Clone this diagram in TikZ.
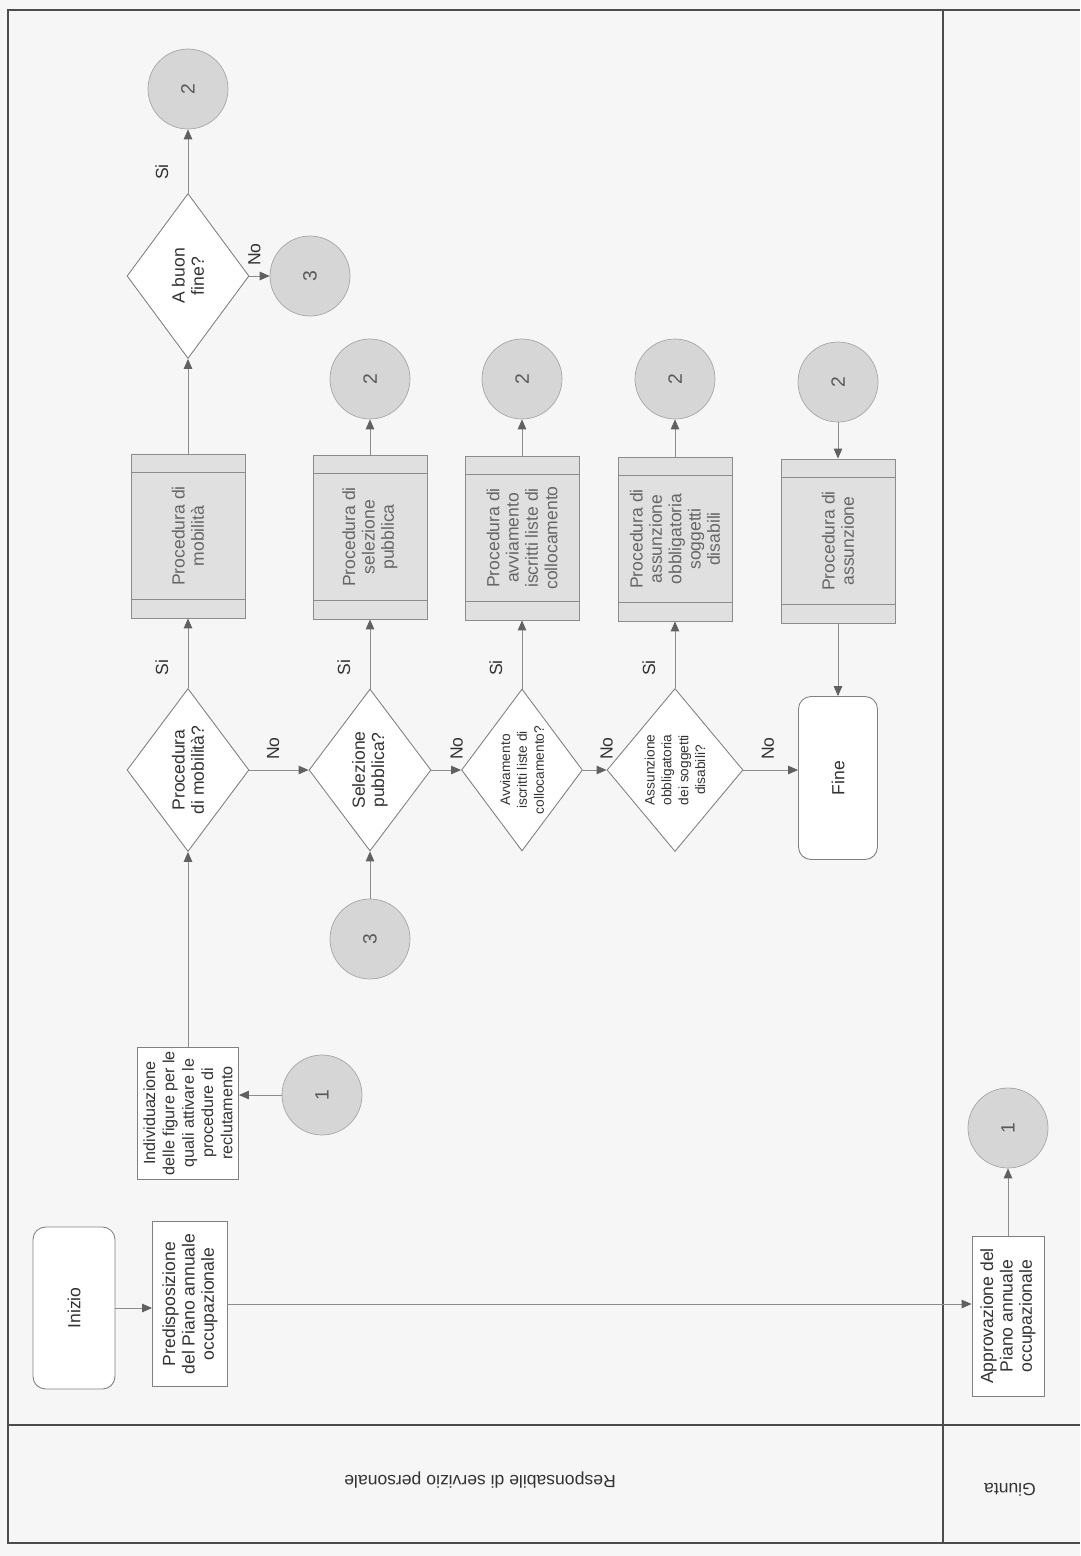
\documentclass[tikz,border=0pt]{standalone}
\usepackage{fontspec}
\setmainfont{Liberation Sans}
\usetikzlibrary{arrows.meta,shapes.geometric,calc}
\definecolor{linegray}{gray}{0.55}
\definecolor{tipgray}{gray}{0.38}
\definecolor{framegray}{gray}{0.3}
\definecolor{procfill}{gray}{0.88}
\definecolor{circfill}{gray}{0.84}
\definecolor{scanbg}{gray}{0.965}

\begin{document}
\begin{tikzpicture}[x=0.02cm, y=0.02cm,
  txt/.style={font=\fontsize{10}{11}\selectfont, text=black!80, align=center, inner sep=0pt},
  small/.style={font=\fontsize{7.8}{9.6}\selectfont},
  plainbox/.style={txt, draw=black!50, fill=white, line width=0.5pt},
  startend/.style={plainbox, rounded corners=0.25cm},
  decision/.style={txt, diamond, shape aspect=1.3, draw=black!50, fill=white, line width=0.5pt},
  proc/.style={txt, draw=black!45, fill=procfill, text=black!60, line width=0.5pt,
    minimum width=3.28cm, minimum height=2.28cm},
  conn/.style={circle, draw=black!35, fill=circfill, minimum size=1.6cm, inner sep=0pt,
    font=\fontsize{11}{12}\selectfont, text=black!65},
  lbl/.style={font=\fontsize{10}{11}\selectfont, text=black!80, inner sep=0pt},
  link/.style={draw=linegray, line width=0.5pt, -{Triangle[length=2mm, width=1.7mm, color=tipgray]}},
  frame/.style={draw=framegray, line width=1.1pt}]
\begin{scope}[shift={(1080,-1556)}, rotate=90, transform shape]
  \useasboundingbox (0,0) rectangle (1556,1080);
  \fill[scanbg] (0,0) rectangle (1556,1080);
  % frame and lanes
  \draw[frame] (1546,0) -- (1546,1072) -- (13,1072) -- (13,0);
  \draw[frame] (13,137) -- (1546,137);
  \draw[frame] (131,0) -- (131,1072);
  \node[lbl, rotate=90] (laneresp) at (76,600) {Responsabile di servizio personale};
  \node[lbl, rotate=90] (lanegiunta) at (66,70) {Giunta};

  % start and plan
  \node[startend, minimum width=3.24cm, minimum height=1.64cm] (inizio) at (248,1006) {Inizio};
  \node[plainbox, minimum width=3.3cm, minimum height=1.5cm] (pred) at (252,890)
    {Predisposizione\\del Piano annuale\\occupazionale};
  \node[plainbox, minimum width=3.2cm, minimum height=1.44cm] (appr) at (240,72)
    {Approvazione del\\Piano annuale\\occupazionale};
  \node[conn] (c1g) at (428,72) {1};
  \node[conn] (c1) at (461,758) {1};
  \node[plainbox, font=\fontsize{9.2}{11}\selectfont, minimum width=2.64cm, minimum height=2.02cm] (indiv) at (443,892)
    {Individuazione\\delle figure per le\\quali attivare le\\procedure di\\reclutamento};

  % decisions
  \node[decision, minimum width=3.26cm, minimum height=2.44cm] (d1) at (786,892) {Procedura\\di mobilità?};
  \node[decision, minimum width=3.24cm, minimum height=2.44cm] (d2) at (786,710) {Selezione\\pubblica?};
  \node[decision, small, minimum width=3.24cm, minimum height=2.42cm] (d3) at (786,558)
    {Avviamento\\iscritti liste di\\collocamento?};
  \node[decision, small, shape aspect=1.2, minimum width=3.26cm, minimum height=2.72cm] (d4) at (786,405)
    {Assunzione\\obbligatoria\\dei soggetti\\disabili?};
  \node[startend, minimum width=3.26cm, minimum height=1.58cm] (fine) at (778,242) {Fine};
  \node[conn] (c3b) at (617,710) {3};

  % procedures
  \node[proc] (b1) at (1020,892) {Procedura di\\mobilità};
  \node[proc] (b2) at (1019,710) {Procedura di\\selezione\\pubblica};
  \node[proc] (b3) at (1018,558) {Procedura di\\avviamento\\iscritti liste di\\collocamento};
  \node[proc] (b4) at (1017,405) {Procedura di\\assunzione\\obbligatoria\\soggetti\\disabili};
  \node[proc] (b5) at (1015,242) {Procedura di\\assunzione};
  \foreach \b in {b1,b2,b3,b4,b5} {
    \draw[black!45, line width=0.5pt] ($(\b.north west)!0.116!(\b.north east)$) -- ($(\b.south west)!0.116!(\b.south east)$);
    \draw[black!45, line width=0.5pt] ($(\b.north east)!0.116!(\b.north west)$) -- ($(\b.south east)!0.116!(\b.south west)$);
  }

  % outcome
  \node[decision, minimum width=3.3cm, minimum height=2.44cm] (d5) at (1280,892) {A buon\\fine?};
  \node[conn] (c2a) at (1467,892) {2};
  \node[conn] (c3a) at (1280,770) {3};
  \node[conn] (c2b) at (1177,710) {2};
  \node[conn] (c2c) at (1177,558) {2};
  \node[conn] (c2d) at (1177,405) {2};
  \node[conn] (c2e) at (1174,242) {2};

  % connectors
  \draw[link] (inizio.south) -- (inizio.south |- pred.north);
  \draw[link] (pred.south) -- (pred.south |- appr.north);
  \draw[link] (appr.east) -- (c1g.west);
  \draw[link] (c1.north) -- (c1.north |- indiv.south);
  \draw[link] (indiv.east) -- (d1.west);
  \draw[link] (d1.east) -- node[lbl, pos=.3, above=11pt] (si1) {Si} (b1.west);
  \draw[link] (d1.south) -- node[lbl, pos=.4, right=5.5pt] (no1) {No} (d2.north);
  \draw[link] (c3b.east) -- (d2.west);
  \draw[link] (d2.east) -- node[lbl, pos=.3, above=11pt] (si2) {Si} (b2.west);
  \draw[link] (d2.south) -- node[lbl, pos=.85, right=5.5pt] (no2) {No} (d3.north);
  \draw[link] (d3.east) -- node[lbl, pos=.3, above=11pt] (si3) {Si} (b3.west);
  \draw[link] (d3.south) -- node[lbl, pos=1, right=5.5pt] (no3) {No} (d4.north);
  \draw[link] (d4.east) -- node[lbl, pos=.3, above=11pt] (si4) {Si} (b4.west);
  \draw[link] (d4.south) -- node[lbl, pos=.45, right=5.5pt] (no4) {No} (d4.south |- fine.north);
  \draw[link] (b1.east) -- (d5.west);
  \draw[link] (d5.east) -- node[lbl, pos=.33, above=11pt] (si5) {Si} (c2a.west);
  \draw[link] (d5.south) -- node[lbl, pos=.25, right=5.5pt] (no5) {No} (c3a.north);
  \draw[link] (b2.east) -- (c2b.west);
  \draw[link] (b3.east) -- (c2c.west);
  \draw[link] (b4.east) -- (c2d.west);
  \draw[link] (c2e.west) -- (b5.east);
  \draw[link] (b5.west) -- (fine.east);
\end{scope}
\end{tikzpicture}
\end{document}
